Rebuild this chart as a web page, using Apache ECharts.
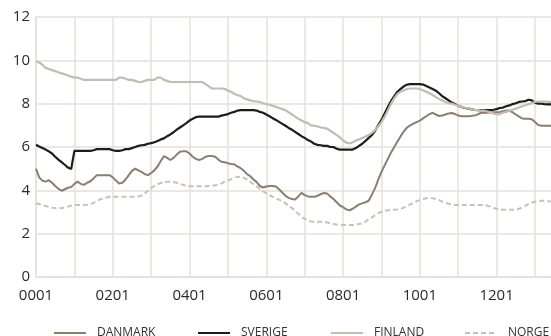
<!DOCTYPE html>
<html><head><meta charset="utf-8">
<script src="https://cdn.jsdelivr.net/npm/echarts@6/dist/echarts.min.js"></script>
<style>html,body{margin:0;padding:0;background:#fff}#c{width:551px;height:336px}</style>
</head><body><div id="c"></div>
<script>
var categories = [];
for (var y = 0; y <= 13; y++) { for (var m = 1; m <= 12; m++) { if (categories.length < 162) categories.push((y < 10 ? '0' : '') + y + (m < 10 ? '0' : '') + m); } }

var denmark = [
5.0,4.6,4.45,4.4,4.47,4.35,4.2,4.08,3.98,4.05,4.12,4.15,
4.3,4.4,4.3,4.25,4.35,4.42,4.55,4.7,4.7,4.7,4.7,4.7,
4.6,4.45,4.32,4.35,4.5,4.7,4.9,5.0,4.92,4.85,4.75,4.7,
4.8,4.92,5.1,5.35,5.58,5.5,5.4,5.5,5.65,5.78,5.8,5.8,
5.7,5.55,5.45,5.4,5.45,5.55,5.58,5.58,5.55,5.42,5.32,5.3,
5.25,5.22,5.2,5.1,5.02,4.9,4.75,4.65,4.5,4.38,4.2,4.13,
4.18,4.2,4.2,4.18,4.05,3.9,3.75,3.65,3.6,3.58,3.72,3.88,
3.78,3.72,3.7,3.7,3.75,3.82,3.88,3.85,3.72,3.6,3.45,3.3,
3.22,3.12,3.08,3.15,3.25,3.35,3.4,3.45,3.52,3.8,4.1,4.5,
4.85,5.15,5.45,5.75,6.0,6.25,6.5,6.72,6.9,7.0,7.08,7.15,
7.22,7.32,7.42,7.52,7.58,7.5,7.43,7.45,7.5,7.55,7.57,7.52,
7.45,7.42,7.42,7.42,7.43,7.45,7.5,7.57,7.58,7.58,7.6,7.6,
7.6,7.62,7.65,7.68,7.68,7.6,7.5,7.4,7.32,7.3,7.3,7.28,
7.15,7.02,6.98,6.98,6.98,6.98];

var sverige = [
6.1,6.02,5.95,5.88,5.8,5.7,5.55,5.42,5.3,5.18,5.05,4.98,
5.82,5.82,5.82,5.82,5.82,5.82,5.85,5.9,5.9,5.9,5.9,5.9,
5.85,5.82,5.82,5.85,5.9,5.9,5.95,6.0,6.05,6.08,6.1,6.15,
6.18,6.22,6.28,6.35,6.4,6.5,6.58,6.68,6.8,6.9,7.0,7.1,
7.22,7.3,7.38,7.4,7.4,7.4,7.4,7.4,7.4,7.4,7.45,7.48,
7.52,7.58,7.62,7.68,7.7,7.7,7.7,7.7,7.7,7.68,7.62,7.58,
7.5,7.42,7.33,7.25,7.16,7.07,6.98,6.88,6.8,6.7,6.6,6.5,
6.42,6.32,6.25,6.15,6.1,6.08,6.05,6.05,6.0,6.0,5.92,5.88,
5.88,5.88,5.88,5.88,5.95,6.05,6.15,6.28,6.42,6.55,6.75,7.0,
7.25,7.55,7.85,8.12,8.35,8.55,8.68,8.8,8.88,8.9,8.9,8.9,
8.9,8.88,8.82,8.75,8.68,8.6,8.48,8.35,8.25,8.15,8.05,7.98,
7.9,7.85,7.8,7.78,7.75,7.72,7.7,7.7,7.7,7.7,7.7,7.72,
7.75,7.8,7.82,7.88,7.92,7.98,8.02,8.08,8.1,8.12,8.18,8.15,
8.05,8.0,8.0,7.98,7.97,7.97];

var finland = [
9.95,9.9,9.8,9.65,9.6,9.55,9.5,9.45,9.4,9.35,9.3,9.25,
9.2,9.2,9.15,9.1,9.1,9.1,9.1,9.1,9.1,9.1,9.1,9.1,
9.1,9.1,9.2,9.2,9.15,9.1,9.1,9.05,9.0,9.0,9.05,9.1,
9.1,9.1,9.2,9.2,9.1,9.05,9.0,9.0,9.0,9.0,9.0,9.0,
9.0,9.0,9.0,9.0,9.0,8.9,8.8,8.7,8.7,8.7,8.7,8.68,
8.6,8.55,8.45,8.4,8.35,8.25,8.2,8.15,8.12,8.1,8.08,8.02,
7.98,7.95,7.9,7.85,7.8,7.75,7.7,7.6,7.5,7.4,7.3,7.22,
7.15,7.1,7.0,6.98,6.95,6.9,6.88,6.85,6.75,6.65,6.55,6.45,
6.3,6.2,6.16,6.22,6.3,6.35,6.42,6.48,6.55,6.65,6.78,6.95,
7.15,7.4,7.7,8.0,8.25,8.45,8.55,8.62,8.68,8.7,8.7,8.7,
8.68,8.62,8.55,8.48,8.4,8.3,8.22,8.15,8.08,8.02,8.0,7.95,
7.9,7.85,7.82,7.8,7.75,7.72,7.7,7.68,7.68,7.65,7.6,7.55,
7.5,7.52,7.58,7.62,7.68,7.72,7.77,7.82,7.88,7.93,7.98,8.03,
8.08,8.1,8.1,8.1,8.08,8.08];

var norge = [
3.4,3.37,3.32,3.28,3.24,3.2,3.18,3.17,3.18,3.2,3.25,3.3,
3.32,3.32,3.32,3.32,3.33,3.36,3.42,3.5,3.58,3.63,3.67,3.7,
3.7,3.7,3.7,3.7,3.7,3.7,3.7,3.7,3.72,3.76,3.85,3.98,
4.1,4.2,4.28,4.34,4.38,4.4,4.4,4.38,4.35,4.3,4.25,4.2,
4.19,4.19,4.19,4.19,4.19,4.19,4.2,4.21,4.23,4.26,4.32,4.4,
4.45,4.52,4.58,4.62,4.62,4.58,4.5,4.4,4.28,4.18,4.06,3.95,
3.86,3.78,3.7,3.63,3.57,3.5,3.4,3.28,3.18,3.05,2.92,2.78,
2.68,2.6,2.56,2.55,2.55,2.55,2.55,2.52,2.48,2.45,2.42,2.4,
2.4,2.4,2.4,2.4,2.42,2.45,2.47,2.55,2.68,2.75,2.85,2.95,
3.0,3.05,3.08,3.1,3.1,3.12,3.15,3.2,3.28,3.35,3.42,3.5,
3.55,3.6,3.63,3.63,3.63,3.6,3.55,3.48,3.42,3.38,3.35,3.32,
3.32,3.32,3.32,3.32,3.32,3.32,3.32,3.32,3.32,3.3,3.25,3.18,
3.15,3.12,3.1,3.1,3.1,3.1,3.12,3.15,3.2,3.28,3.38,3.43,
3.47,3.5,3.52,3.52,3.5,3.48];

var seriesNames = ['DANMARK', 'SVERIGE', 'FINLAND', 'NORGE'];
var yTicks = [0, 2, 4, 6, 8, 10, 12];

var gridColor = '#e4e0da';
var FONT = 'Open Sans';
var chart = echarts.init(document.getElementById('c'), null, { renderer: 'canvas' });

function legendAt(name, left) {
  return {
    data: [name], left: left, top: 322, itemWidth: 32, itemHeight: 14,
    itemStyle: { opacity: 0 },
    textStyle: { fontFamily: FONT, fontSize: 12, color: '#333', padding: [0, 0, 0, 6] },
    selectedMode: false
  };
}

chart.setOption({
  animation: false,
  backgroundColor: '#fff',
  legend: [legendAt('DANMARK', 48), legendAt('SVERIGE', 192), legendAt('FINLAND', 325), legendAt('NORGE', 459)],
  grid: { left: 36, right: 0, top: 17, bottom: 59, containLabel: false },
  xAxis: {
    type: 'category', data: categories, boundaryGap: false,
    axisLine: { show: true, lineStyle: { color: gridColor, width: 2 } },
    axisTick: { show: false },
    axisLabel: { interval: 23, margin: 11, fontFamily: FONT, fontSize: 15, color: '#2a2a2a' },
    splitLine: { show: true, interval: 11, lineStyle: { color: gridColor, width: 1.5 } }
  },
  yAxis: {
    type: 'value', min: yTicks[0], max: yTicks[yTicks.length - 1], interval: 2,
    axisLine: { show: true, lineStyle: { color: gridColor, width: 1.5 } },
    axisTick: { show: false },
    axisLabel: { margin: 6, fontFamily: FONT, fontSize: 15, color: '#2a2a2a' },
    splitLine: { show: true, lineStyle: { color: gridColor, width: 1.5 } }
  },
  series: [
    { name: seriesNames[0], type: 'line', data: denmark, symbol: 'none', z: 3, lineStyle: { color: '#8a7f70', width: 2 }, itemStyle: { color: '#8a7f70' } },
    { name: seriesNames[3], type: 'line', data: norge, symbol: 'none', z: 2, lineStyle: { color: '#c9c1b7', width: 2, type: [5, 3] }, itemStyle: { color: '#c9c1b7' } },
    { name: seriesNames[2], type: 'line', data: finland, symbol: 'none', z: 5, lineStyle: { color: '#c4bcb2', width: 2.2 }, itemStyle: { color: '#c4bcb2' } },
    { name: seriesNames[1], type: 'line', data: sverige, symbol: 'none', z: 4, lineStyle: { color: '#1c1c1c', width: 2.2 }, itemStyle: { color: '#1c1c1c' } }
  ]
});
</script></body></html>
